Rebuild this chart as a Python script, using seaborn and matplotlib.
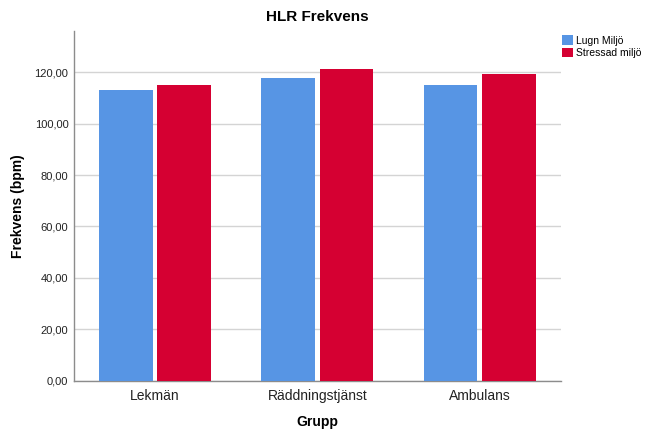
import numpy as np
import pandas as pd
import matplotlib.pyplot as plt
import seaborn as sns

# values
grupper = ["Lekmän", "Räddningstjänst", "Ambulans"]
lugn = [113.0, 117.9, 115.1]
stressad = [114.9, 121.3, 119.5]
miljo = ["Lugn Miljö", "Stressad miljö"]
yticks = [0, 20, 40, 60, 80, 100, 120]

df = pd.DataFrame({
    "Grupp": grupper * 2,
    "Miljö": [miljo[0]] * 3 + [miljo[1]] * 3,
    "Frekvens": lugn + stressad,
})

sns.set_style("white", {"text.color": "black", "axes.labelcolor": "black",
                        "xtick.color": "black", "ytick.color": "black"})
plt.rcParams["font.family"] = ["Liberation Sans", "DejaVu Sans"]

fig = plt.figure(figsize=(6.49, 4.33), dpi=100)
ax = fig.add_axes([0.114, 0.121, 0.75, 0.807])

sns.barplot(data=df, x="Grupp", y="Frekvens", hue="Miljö", order=grupper,
            hue_order=miljo, palette=["#5795E4", "#D50032"], saturation=1,
            width=0.72, gap=0.08, edgecolor="none", ax=ax, zorder=3)

ax.set_ylim(0, 136)
ax.set_yticks(yticks)
ax.set_yticklabels([f"{v:.2f}".replace(".", ",") for v in yticks], fontsize=8)
ax.tick_params(axis="x", labelsize=10, length=0, pad=6, colors="#222222")
ax.tick_params(axis="y", length=0, pad=4, colors="#222222")
ax.yaxis.grid(True, color="#D4D4D4", linewidth=1, zorder=0)
ax.set_axisbelow(True)

for s in ["top", "right"]:
    ax.spines[s].set_visible(False)
for s in ["left", "bottom"]:
    ax.spines[s].set_color("#8C8C8C")
    ax.spines[s].set_linewidth(1)

ax.set_title("HLR Frekvens", fontsize=11, fontweight="bold", pad=7, color="black")
ax.set_xlabel("Grupp", fontsize=10, fontweight="bold", labelpad=9, color="black")
ax.set_ylabel("Frekvens (bpm)", fontsize=10, fontweight="bold", labelpad=7, color="black")

ax.legend(loc="upper left", bbox_to_anchor=(0.995, 1.0), frameon=False,
          fontsize=7.5, handlelength=1.0, handleheight=1.0, handletextpad=0.3,
          labelspacing=0.2, borderaxespad=0.0)

fig.savefig("out.png", dpi=100)
